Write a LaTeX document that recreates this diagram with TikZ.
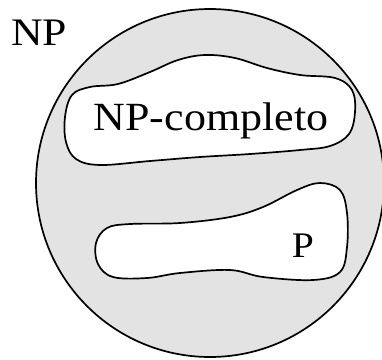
\documentclass[tikz,border=0pt]{standalone}
\usepackage{fontspec}
\setmainfont{Liberation Serif}
\begin{document}
\begin{tikzpicture}[x=1pt,y=-1pt,line width=1.7pt]
      \useasboundingbox (0,0) rectangle (382,359);
      \coordinate (O) at (210,183);
      \fill[gray!22] (O) circle [radius=174pt];
      \draw (O) circle [radius=174pt];
      % NP-completo
      \draw[fill=white] plot[smooth cycle,tension=0.6] coordinates {
        (65,117) (72,95) (90,87) (118,84) (150,72) (178,60) (205,55)
        (235,58) (267,68) (300,75) (335,78) (352,90) (355,112)
        (349,134) (330,146) (300,150) (250,154) (200,157) (150,161)
        (100,165) (76,159) (66,142)};
      % P
      \draw[fill=white] plot[smooth cycle,tension=0.6] coordinates {
        (96,243) (107,228) (130,224) (180,223) (230,217) (263,207)
        (297,190) (320,183) (340,190) (347,213) (347,247) (340,272)
        (313,280) (263,277) (230,270) (180,273) (147,278) (113,277)
        (98,264)};
      \node[xscale=1.12,transform shape] (np) at (39,33) {\fontsize{39}{39}\selectfont NP};
      \node[xscale=1.1,transform shape] (npc) at (211,121) {\fontsize{40}{40}\selectfont NP-completo};
      \node[xscale=1.1,transform shape] (p) at (303,246) {\fontsize{36}{36}\selectfont P};
\end{tikzpicture}
\end{document}
